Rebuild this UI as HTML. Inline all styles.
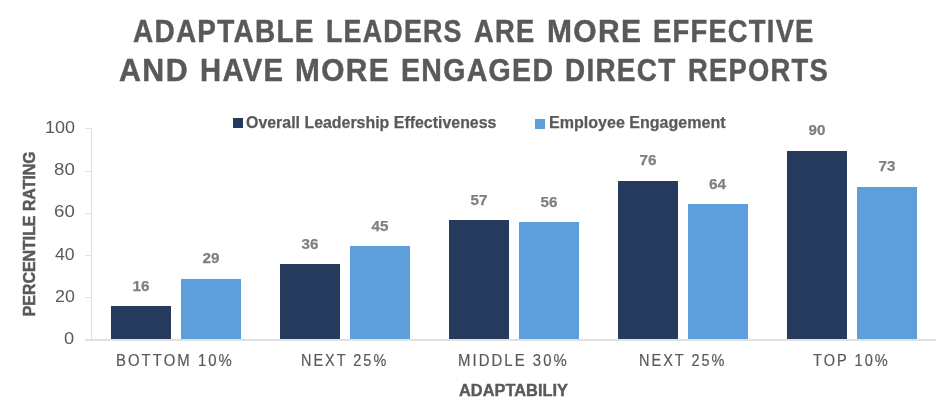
<!DOCTYPE html>
<html><head><meta charset="utf-8">
<style>
html,body{margin:0;padding:0;background:#fff;}
body{width:952px;height:419px;position:relative;overflow:hidden;font-family:"Liberation Sans",Arial,sans-serif;}
.t{position:absolute;white-space:nowrap;line-height:1;}
.b{position:absolute;width:60px;}
#w{position:absolute;left:0;top:0;width:952px;height:419px;filter:blur(0.45px);}
</style></head><body><div id="w">
<div class="b" style="left:232.5px;top:118px;width:10px;height:10px;background:#253a5c"></div>
<div class="b" style="left:534.5px;top:118.5px;width:10px;height:10px;background:#5d9edc"></div>
<div class="b" style="left:111px;top:305.9px;height:34.1px;background:#253a5c"></div>
<div class="b" style="left:181px;top:278.5px;height:61.5px;background:#5d9edc"></div>
<div class="b" style="left:280px;top:263.9px;height:76.1px;background:#253a5c"></div>
<div class="b" style="left:350px;top:246.3px;height:93.7px;background:#5d9edc"></div>
<div class="b" style="left:449px;top:220.0px;height:120.0px;background:#253a5c"></div>
<div class="b" style="left:519px;top:222.1px;height:117.9px;background:#5d9edc"></div>
<div class="b" style="left:618px;top:180.5px;height:159.5px;background:#253a5c"></div>
<div class="b" style="left:688px;top:204.2px;height:135.8px;background:#5d9edc"></div>
<div class="b" style="left:787px;top:150.5px;height:189.5px;background:#253a5c"></div>
<div class="b" style="left:857px;top:186.5px;height:153.5px;background:#5d9edc"></div>
<div class="b" style="left:91px;top:128px;width:1px;height:212px;background:#e0e0e0"></div>
<div class="b" style="left:85px;top:339px;width:851px;height:2px;background:#e0e0e0"></div>
<div class="b" style="left:85px;top:128px;width:6px;height:1px;background:#e0e0e0"></div>
<div class="b" style="left:85px;top:171px;width:6px;height:1px;background:#e0e0e0"></div>
<div class="b" style="left:85px;top:213px;width:6px;height:1px;background:#e0e0e0"></div>
<div class="b" style="left:85px;top:255px;width:6px;height:1px;background:#e0e0e0"></div>
<div class="b" style="left:85px;top:297px;width:6px;height:1px;background:#e0e0e0"></div>
<div class="t" style="left:133.08px;top:16.05px;transform-origin:0 0;transform:scaleX(0.9159);font-weight:bold;font-size:30.5px;letter-spacing:1.4px;color:#595959;-webkit-text-stroke:0.45px #595959;">ADAPTABLE</div>
<div class="t" style="left:326.24px;top:16.05px;transform-origin:0 0;transform:scaleX(0.8788);font-weight:bold;font-size:30.5px;letter-spacing:1.4px;color:#595959;-webkit-text-stroke:0.45px #595959;">LEADERS</div>
<div class="t" style="left:473.81px;top:16.05px;transform-origin:0 0;transform:scaleX(0.8938);font-weight:bold;font-size:30.5px;letter-spacing:1.4px;color:#595959;-webkit-text-stroke:0.45px #595959;">ARE</div>
<div class="t" style="left:546.63px;top:16.05px;transform-origin:0 0;transform:scaleX(0.9826);font-weight:bold;font-size:30.5px;letter-spacing:1.4px;color:#595959;-webkit-text-stroke:0.45px #595959;">MORE</div>
<div class="t" style="left:652.51px;top:16.05px;transform-origin:0 0;transform:scaleX(0.8960);font-weight:bold;font-size:30.5px;letter-spacing:1.4px;color:#595959;-webkit-text-stroke:0.45px #595959;">EFFECTIVE</div>
<div class="t" style="left:118.50px;top:55.10px;transform-origin:0 0;transform:scaleX(0.9955);font-weight:bold;font-size:30.5px;letter-spacing:1.4px;color:#595959;-webkit-text-stroke:0.45px #595959;">AND</div>
<div class="t" style="left:199.99px;top:55.10px;transform-origin:0 0;transform:scaleX(0.9566);font-weight:bold;font-size:30.5px;letter-spacing:1.4px;color:#595959;-webkit-text-stroke:0.45px #595959;">HAVE</div>
<div class="t" style="left:294.55px;top:55.10px;transform-origin:0 0;transform:scaleX(0.9772);font-weight:bold;font-size:30.5px;letter-spacing:1.4px;color:#595959;-webkit-text-stroke:0.45px #595959;">MORE</div>
<div class="t" style="left:401.13px;top:55.10px;transform-origin:0 0;transform:scaleX(0.9346);font-weight:bold;font-size:30.5px;letter-spacing:1.4px;color:#595959;-webkit-text-stroke:0.45px #595959;">ENGAGED</div>
<div class="t" style="left:564.97px;top:55.10px;transform-origin:0 0;transform:scaleX(0.9144);font-weight:bold;font-size:30.5px;letter-spacing:1.4px;color:#595959;-webkit-text-stroke:0.45px #595959;">DIRECT</div>
<div class="t" style="left:687.81px;top:55.10px;transform-origin:0 0;transform:scaleX(0.8967);font-weight:bold;font-size:30.5px;letter-spacing:1.4px;color:#595959;-webkit-text-stroke:0.45px #595959;">REPORTS</div>
<div class="t" style="left:246.46px;top:114.00px;transform-origin:0 0;transform:scaleX(0.9365);font-weight:bold;font-size:17px;color:#595959;-webkit-text-stroke:0.25px #595959;">Overall Leadership Effectiveness</div>
<div class="t" style="left:548.66px;top:114.45px;transform-origin:0 0;transform:scaleX(0.9441);font-weight:bold;font-size:17px;color:#595959;-webkit-text-stroke:0.25px #595959;">Employee Engagement</div>
<div class="t" style="left:45.13px;top:120.00px;transform-origin:0 0;transform:scaleX(1.0731);font-size:16.8px;color:#595959;">100</div>
<div class="t" style="left:54.19px;top:162.20px;transform-origin:0 0;transform:scaleX(1.1118);font-size:16.8px;color:#595959;">80</div>
<div class="t" style="left:54.19px;top:204.40px;transform-origin:0 0;transform:scaleX(1.1118);font-size:16.8px;color:#595959;">60</div>
<div class="t" style="left:55.30px;top:246.60px;transform-origin:0 0;transform:scaleX(1.0500);font-size:16.8px;color:#595959;">40</div>
<div class="t" style="left:54.74px;top:288.90px;transform-origin:0 0;transform:scaleX(1.0647);font-size:16.8px;color:#595959;">20</div>
<div class="t" style="left:63.61px;top:331.10px;transform-origin:0 0;transform:scaleX(1.0875);font-size:16.8px;color:#595959;">0</div>
<div class="t" style="left:132.50px;top:277.75px;font-weight:bold;font-size:15.2px;color:#7f7f7f;-webkit-text-stroke:0.25px #7f7f7f;">16</div>
<div class="t" style="left:202.50px;top:250.35px;font-weight:bold;font-size:15.2px;color:#7f7f7f;-webkit-text-stroke:0.25px #7f7f7f;">29</div>
<div class="t" style="left:301.50px;top:235.75px;font-weight:bold;font-size:15.2px;color:#7f7f7f;-webkit-text-stroke:0.25px #7f7f7f;">36</div>
<div class="t" style="left:371.50px;top:218.15px;font-weight:bold;font-size:15.2px;color:#7f7f7f;-webkit-text-stroke:0.25px #7f7f7f;">45</div>
<div class="t" style="left:470.50px;top:191.85px;font-weight:bold;font-size:15.2px;color:#7f7f7f;-webkit-text-stroke:0.25px #7f7f7f;">57</div>
<div class="t" style="left:540.50px;top:193.95px;font-weight:bold;font-size:15.2px;color:#7f7f7f;-webkit-text-stroke:0.25px #7f7f7f;">56</div>
<div class="t" style="left:639.50px;top:152.35px;font-weight:bold;font-size:15.2px;color:#7f7f7f;-webkit-text-stroke:0.25px #7f7f7f;">76</div>
<div class="t" style="left:709.00px;top:176.05px;font-weight:bold;font-size:15.2px;color:#7f7f7f;-webkit-text-stroke:0.25px #7f7f7f;">64</div>
<div class="t" style="left:808.50px;top:122.35px;font-weight:bold;font-size:15.2px;color:#7f7f7f;-webkit-text-stroke:0.25px #7f7f7f;">90</div>
<div class="t" style="left:878.50px;top:158.35px;font-weight:bold;font-size:15.2px;color:#7f7f7f;-webkit-text-stroke:0.25px #7f7f7f;">73</div>
<div class="t" style="left:116.16px;top:353.30px;transform-origin:0 0;transform:scaleX(0.9410);font-size:15.8px;letter-spacing:2.2px;color:#595959;-webkit-text-stroke:0.2px #595959;">BOTTOM 10%</div>
<div class="t" style="left:300.69px;top:353.30px;transform-origin:0 0;transform:scaleX(0.9141);font-size:15.8px;letter-spacing:2.2px;color:#595959;-webkit-text-stroke:0.2px #595959;">NEXT 25%</div>
<div class="t" style="left:457.96px;top:353.30px;transform-origin:0 0;transform:scaleX(0.9421);font-size:15.8px;letter-spacing:2.2px;color:#595959;-webkit-text-stroke:0.2px #595959;">MIDDLE 30%</div>
<div class="t" style="left:638.58px;top:353.30px;transform-origin:0 0;transform:scaleX(0.9163);font-size:15.8px;letter-spacing:2.2px;color:#595959;-webkit-text-stroke:0.2px #595959;">NEXT 25%</div>
<div class="t" style="left:813.10px;top:353.30px;transform-origin:0 0;transform:scaleX(0.9210);font-size:15.8px;letter-spacing:2.2px;color:#595959;-webkit-text-stroke:0.2px #595959;">TOP 10%</div>
<div class="t" style="left:458.86px;top:381.95px;transform-origin:0 0;transform:scaleX(0.9421);font-weight:bold;font-size:17.4px;color:#595959;-webkit-text-stroke:0.4px #595959;">ADAPTABILIY</div>
<div class="t" style="left:0;top:0;transform-origin:0 0;transform:translate(21.05px,316.23px) rotate(-90deg) scaleX(0.9250);font-weight:bold;font-size:17.2px;color:#595959;-webkit-text-stroke:0.5px #595959;">PERCENTILE RATING</div>
</div></body></html>
